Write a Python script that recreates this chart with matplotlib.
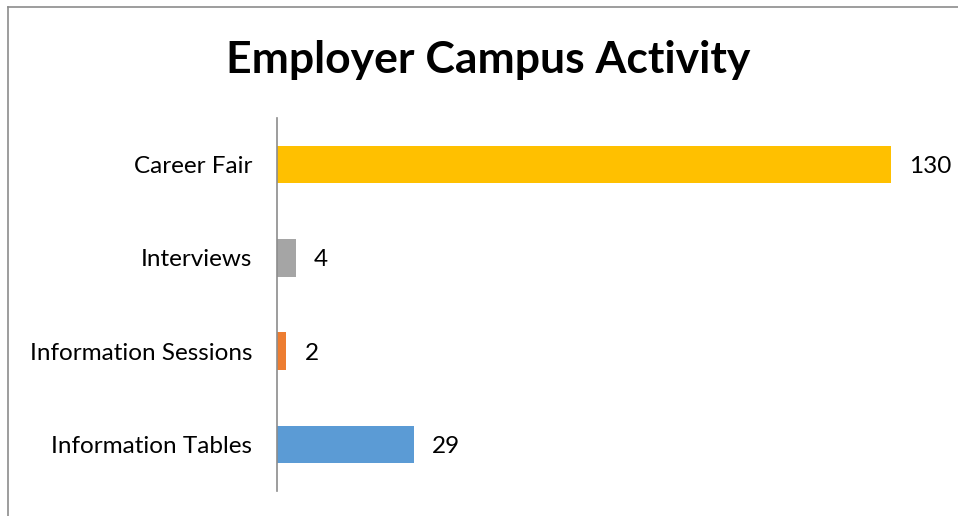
import matplotlib
matplotlib.use("Agg")
import matplotlib.pyplot as plt
from matplotlib.lines import Line2D

categories = ["Information Tables", "Information Sessions", "Interviews", "Career Fair"]
values = [29, 2, 4, 130]
colors = ["#5B9BD5", "#ED7D31", "#A5A5A5", "#FFC000"]
title = "Employer Campus Activity"

plt.rcParams['font.family'] = ['Lato', 'DejaVu Sans']

W, H = 958, 516
fig = plt.figure(figsize=(W/100, H/100), dpi=100)
ax = fig.add_axes([277/W, 1-491/H, (938-277)/W, (491-118)/H])

ypos = list(range(len(categories)))
ax.barh(ypos, values, height=0.4, color=colors)
for y, v in zip(ypos, values):
    ax.text(v + 3.8, y, str(v), va='center_baseline', ha='left', fontsize=17.5, color='black')

ax.set_xlim(0, 140)
ax.set_ylim(-0.5, len(categories) - 0.5)
ax.set_yticks(ypos)
ax.set_yticklabels(categories, fontsize=17.5)
ax.tick_params(axis='y', length=0, pad=18)
ax.set_xticks([])
for s in ['top', 'right', 'bottom']:
    ax.spines[s].set_visible(False)
ax.spines['left'].set_color('#8C8C8C')
ax.spines['left'].set_linewidth(1.2)

fig.text(488/W, 1-60/H, title, ha='center', va='center', fontsize=32, fontweight='bold')

# outer chart border (left and top visible)
fig.add_artist(Line2D([8/W, 8/W], [0, 1-6.5/H], transform=fig.transFigure, color='#8C8C8C', lw=1.2))
fig.add_artist(Line2D([8/W, 1], [1-6.5/H, 1-6.5/H], transform=fig.transFigure, color='#8C8C8C', lw=1.2))

fig.savefig("out.png", dpi=100)
